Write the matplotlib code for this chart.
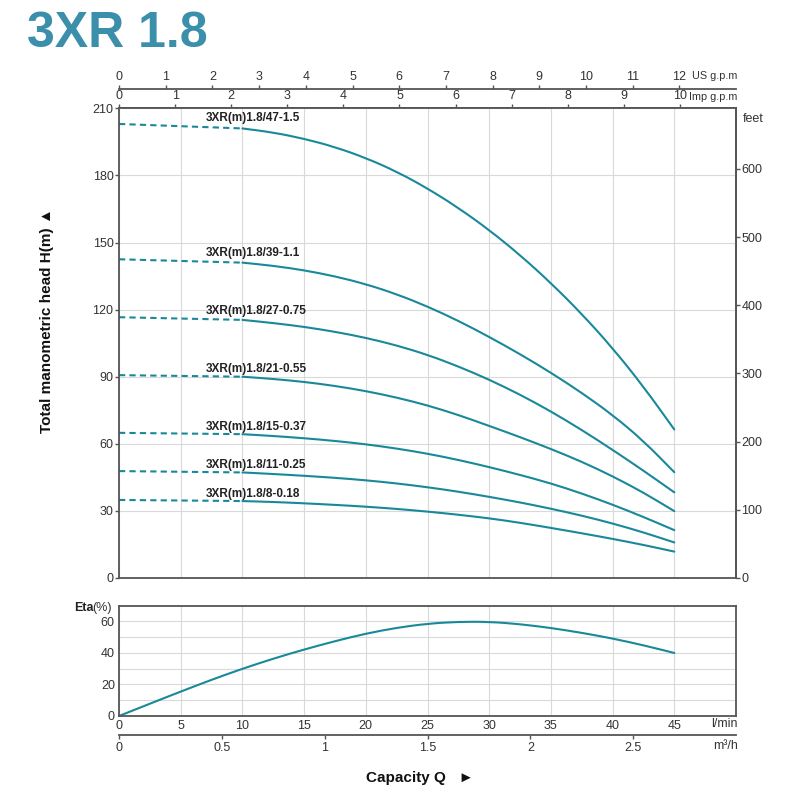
import matplotlib
matplotlib.use("Agg")
import matplotlib.pyplot as plt
from matplotlib.path import Path
from matplotlib.patches import PathPatch
import numpy as np

plt.rcParams['font.family'] = ['Liberation Sans', 'DejaVu Sans']

# capacity Q in l/min
q_dash = [0, 10]
q = [10, 12.5, 15, 17.5, 20, 22.5, 25, 27.5, 30, 32.5, 35, 37.5, 40, 42.5, 45]

models = ['3XR(m)1.8/47-1.5', '3XR(m)1.8/39-1.1', '3XR(m)1.8/27-0.75',
          '3XR(m)1.8/21-0.55', '3XR(m)1.8/15-0.37', '3XR(m)1.8/11-0.25',
          '3XR(m)1.8/8-0.18']
shutoff_head = [203, 142.5, 116.6, 90.7, 64.9, 47.8, 34.9]

head_47 = [201, 199.2, 196.4, 192.7, 187.8, 181.7, 174.2, 165.5, 155.6, 144.4, 131.9, 118.1, 102.8, 85.6, 66.4]
head_39 = [141, 139.6, 137.6, 134.9, 131.4, 126.9, 121.4, 115.0, 107.8, 100.1, 91.8, 82.8, 72.9, 61.3, 47.3]
head_27 = [115.4, 114.0, 112.3, 110.1, 107.4, 104.0, 99.8, 94.6, 88.7, 82.0, 74.5, 66.2, 57.3, 48.0, 38.3]
head_21 = [90.0, 89.0, 87.7, 85.9, 83.6, 80.7, 77.2, 72.9, 68.0, 63.0, 57.7, 52.0, 45.5, 38.2, 29.9]
head_15 = [64.3, 63.5, 62.5, 61.3, 59.8, 57.9, 55.6, 52.8, 49.6, 46.1, 42.3, 37.8, 32.8, 27.3, 21.4]
head_11 = [47.2, 46.5, 45.7, 44.8, 43.7, 42.3, 40.6, 38.6, 36.3, 33.8, 31.0, 27.9, 24.4, 20.4, 15.9]
head_8 = [34.4, 34.0, 33.4, 32.7, 31.9, 30.9, 29.7, 28.3, 26.7, 24.7, 22.4, 20.0, 17.5, 14.8, 11.8]
heads = [head_47, head_39, head_27, head_21, head_15, head_11, head_8]

q_eta = [0, 2.5, 5, 7.5, 10, 12.5, 15, 17.5, 20, 22.5, 25, 27.5, 30, 32.5, 35, 37.5, 40, 42.5, 45]
eta = [0, 7.8, 15.5, 23, 30, 36.4, 42.2, 47.5, 52.3, 56, 58.6, 59.8, 59.8, 58.3, 55.9, 52.8, 49.2, 44.9, 40]

m3h_ticks = [0, 0.5, 1, 1.5, 2, 2.5]
m3h_labels = ['0', '0.5', '1', '1.5', '2', '2.5']

teal = '#19899a'
spine_c = '#555555'
tick_c = '#333333'
grid_c = '#d9d9d9'
fs = 9
fs_unit = 7.8

fig = plt.figure(figsize=(8, 8), dpi=100)
ax = fig.add_axes([119 / 800, 222 / 800, 617 / 800, 469.7 / 800])
ax_eta = fig.add_axes([119 / 800, 84 / 800, 617 / 800, 110.3 / 800])


def style(a, pad=2):
    for s in a.spines.values():
        s.set_color(spine_c)
        s.set_linewidth(1.3)
    a.tick_params(colors=spine_c, labelcolor=tick_c, labelsize=fs, width=1, length=3, pad=pad)


def smooth_curve(a, x, y, **kw):
    # draw the points as a smooth quadratic bezier chain
    pts = np.column_stack([x, y])
    verts = [pts[0], (pts[0] + pts[1]) / 2]
    codes = [Path.MOVETO, Path.LINETO]
    for i in range(1, len(pts) - 1):
        verts += [pts[i], (pts[i] + pts[i + 1]) / 2]
        codes += [Path.CURVE3, Path.CURVE3]
    verts.append(pts[-1])
    codes.append(Path.LINETO)
    a.add_patch(PathPatch(Path(verts, codes), fill=False, edgecolor=kw.get('color'),
                          lw=kw.get('lw', 1.5), capstyle='round', joinstyle='round'))


# head curves
for name, h0, h in zip(models, shutoff_head, heads):
    ax.plot(q_dash, [h0, h[0]], color=teal, lw=1.5, ls=(0, (3, 2)))
    smooth_curve(ax, q, h, color=teal, lw=1.5)
    ax.annotate(name, (7.0, h0), xytext=(0, 4.5), textcoords='offset points',
                va='center', ha='left', fontsize=8.5, weight='bold', color='#222222')

ax.set_xlim(0, 50)
ax.set_ylim(0, 210)
ax.set_xticks(np.arange(0, 51, 5))
ax.set_yticks(np.arange(0, 211, 30))
ax.grid(color=grid_c, lw=0.8)
ax.set_axisbelow(True)
style(ax, pad=1)
ax.tick_params(axis='x', bottom=False, labelbottom=False, top=False)

imp = ax.secondary_xaxis('top', functions=(lambda x: x / 4.546, lambda g: g * 4.546))
imp.set_xticks(range(0, 11))
style(imp, pad=1.5)

us = ax.secondary_xaxis(1 + 19 / 469.7, functions=(lambda x: x / 3.785, lambda g: g * 3.785))
us.set_xticks(range(0, 13))
style(us, pad=1.5)

feet = ax.secondary_yaxis('right', functions=(lambda m: m * 3.2808, lambda f: f / 3.2808))
feet.set_yticks(range(0, 601, 100))
style(feet, pad=1)

# efficiency
smooth_curve(ax_eta, q_eta, eta, color=teal, lw=1.5)
ax_eta.set_xlim(0, 50)
ax_eta.set_ylim(0, 70)
ax_eta.set_xticks(np.arange(0, 46, 5))
ax_eta.set_yticks([0, 20, 40, 60])
ax_eta.set_yticks([10, 30, 50], minor=True)
ax_eta.grid(which='both', color=grid_c, lw=0.8)
ax_eta.set_axisbelow(True)
style(ax_eta)
ax_eta.tick_params(which='both', length=0, pad=3)

m3h = ax_eta.secondary_xaxis(-19 / 110.3, functions=(lambda x: x * 0.06, lambda m: m / 0.06))
m3h.set_xticks(m3h_ticks)
m3h.set_xticklabels(m3h_labels)
style(m3h)

# texts
fig.text(27 / 800, 1 - 47 / 800, '3XR 1.8', fontsize=36, weight='bold',
         color='#3b8fab', ha='left', va='baseline')
fig.text(737 / 800, 1 - 75.7 / 800, 'US g.p.m', fontsize=fs_unit, color=tick_c, ha='right', va='center')
fig.text(737 / 800, 1 - 97.3 / 800, 'Imp g.p.m', fontsize=fs_unit, color=tick_c, ha='right', va='center')
fig.text(743 / 800, 1 - 119 / 800, 'feet', fontsize=fs, color=tick_c, ha='left', va='center')
fig.text(738 / 800, 1 - 724 / 800, 'l/min', fontsize=fs, color=tick_c, ha='right', va='center')
fig.text(738 / 800, 1 - 745.7 / 800, 'm³/h', fontsize=fs, color=tick_c, ha='right', va='center')
fig.text(112 / 800, 1 - 608 / 800, '(%)', fontsize=fs, color=tick_c, ha='right', va='center')
fig.text(93.5 / 800, 1 - 608 / 800, 'Eta', fontsize=fs, weight='bold', color='#222222',
         ha='right', va='center')
fig.text(47.5 / 800, 1 - 433 / 800, 'Total manometric head H(m) ▲', rotation=90,
         fontsize=11, weight='bold', color='#111111', ha='center', va='bottom')
fig.text(366 / 800, 1 - 778 / 800, 'Capacity Q   ►', fontsize=11, weight='bold',
         color='#111111', ha='left', va='center')

fig.savefig('out.png', dpi=100)
